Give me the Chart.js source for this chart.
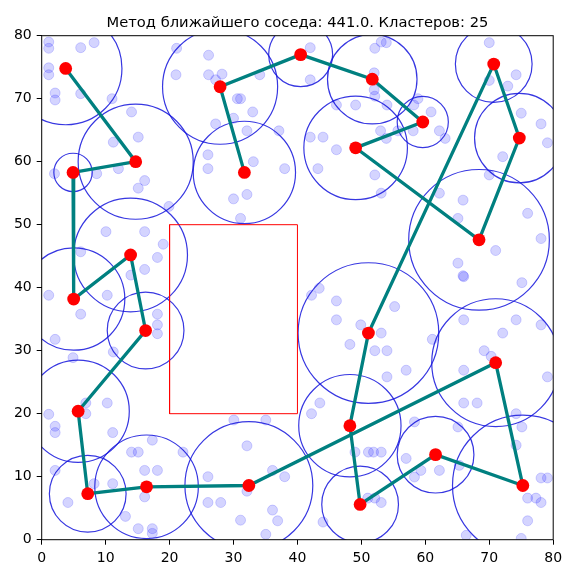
<!DOCTYPE html>
<html>
<head>
<meta charset="utf-8">
<script src="https://cdn.jsdelivr.net/npm/chart.js@4.4.0/dist/chart.umd.min.js"></script>
<style>
  html, body { margin: 0; padding: 0; background: #fff; }
  #wrap { width: 563px; height: 565px; }
</style>
</head>
<body>
<div id="wrap"><canvas id="c" width="563" height="565"></canvas></div>
<script>
// Title shown above the plot
const titleText = 'Метод ближайшего соседа: 441.0. Кластеров: 25';

// Axis ticks
const tickMin = 0;
const tickMax = 80;
const tickStep = 10;

// Cluster centres, listed in the order the nearest-neighbour route visits them
const centerX = [3.75, 14.7, 4.9, 5.0, 13.9, 16.25, 5.7, 7.2, 16.4, 32.4, 71.0, 75.25, 61.6,
                 49.8, 48.2, 51.1, 70.7, 74.7, 68.4, 49.1, 59.6, 51.7, 40.5, 27.9, 31.7];
const centerY = [74.8, 60.0, 58.3, 38.2, 45.2, 33.2, 20.4, 7.3, 8.4, 8.6, 28.1, 8.6, 13.5,
                 5.6, 18.1, 32.8, 75.5, 63.75, 47.6, 62.2, 66.3, 73.1, 77.0, 71.9, 58.3];
// Cluster radii (data units)
const clusterR = [8.8, 9.0, 3.0, 8.0, 8.9, 6.0, 8.0, 6.0, 8.1, 10.0, 10.0, 11.0, 6.0,
                  6.0, 8.0, 11.0, 6.0, 7.0, 11.0, 8.1, 4.0, 7.0, 5.0, 9.0, 8.0];

// Forbidden zone outline
const zoneX = [20, 40, 40, 20, 20];
const zoneY = [20, 20, 50, 50, 20];

// Raw observations
const obsX = [
  1.1, 1.1, 6.1, 8.2, 1.1, 1.1, 2.1, 2.1, 6.1, 11.0,
  21.1, 21.0, 26.1, 26.1, 28.2, 27.2, 34.1, 27.2, 30.0, 30.6, 31.1, 33.0, 32.1, 37.1,
  14.05, 11.2, 15.1, 16.1, 15.1, 12.0, 8.6, 2.0,
  26.0, 26.0, 33.1, 38.0, 30.0, 32.1, 31.1, 19.9,
  10.05, 16.1, 19.0, 18.1, 16.1, 13.95, 6.1,
  42.0, 42.0, 52.1, 53.1, 53.9, 52.0, 52.0, 52.1, 54.0, 49.1, 46.1, 58.2, 58.85, 60.9,
  62.2, 63.1, 58.1, 55.7, 53.9, 53.0, 42.0, 44.0, 46.1, 43.2, 52.1, 53.1,
  70.0, 74.2, 72.9, 70.0, 75.0, 78.1, 79.1, 72.1, 70.0, 62.2, 65.9, 76.0, 78.1, 71.0,
  65.1, 65.9, 65.1,
  1.1, 6.1, 10.25, 11.2, 2.1, 4.9, 18.1, 18.1, 18.1, 1.1, 2.1, 2.1, 6.9, 6.9, 10.25,
  11.1, 2.1, 4.1, 8.2, 11.1, 13.1, 14.05, 15.1, 17.3, 16.1, 18.1, 16.1, 15.1, 17.3, 17.3,
  22.1, 26.0, 26.0, 28.0, 30.05, 35.05, 32.1, 32.1, 31.1, 36.1, 36.9, 35.05, 38.0, 36.1,
  66.0, 75.1, 43.4, 42.2, 46.1, 46.1, 55.2, 49.9, 53.1, 48.2, 52.1, 54.0, 57.0, 54.0,
  61.1, 66.0, 74.2, 72.1, 78.1, 69.2, 70.3, 66.0, 79.1, 66.0, 68.1, 74.2, 75.1, 43.5,
  42.2, 58.3, 65.1, 74.2, 49.0, 51.1, 51.9, 53.1, 57.0, 58.3, 59.3, 62.2, 65.3, 78.1,
  79.1, 76.0, 77.3, 78.1, 76.0, 51.0, 52.1, 53.1, 44.0, 66.4, 75.0
];
const obsY = [
  79.0, 78.0, 78.1, 78.9, 74.9, 73.8, 70.9, 69.8, 70.8, 70.0,
  78.0, 73.8, 76.9, 73.8, 73.9, 73.0, 73.8, 66.0, 66.9, 70.0, 70.0, 67.9, 64.9, 64.9,
  67.9, 63.1, 63.9, 57.0, 55.8, 58.9, 58.1, 58.1,
  61.1, 58.9, 60.0, 58.9, 54.1, 54.8, 51.0, 52.9,
  48.9, 48.9, 46.9, 44.8, 42.9, 42.0, 45.7,
  78.1, 73.0, 78.0, 79.0, 78.9, 74.1, 71.4, 70.4, 69.0, 69.0, 69.0, 69.0, 70.0, 67.9,
  64.9, 63.7, 64.9, 64.9, 63.7, 64.9, 63.9, 63.9, 61.9, 58.9, 57.9, 55.0,
  78.9, 73.8, 72.0, 72.9, 67.7, 66.0, 63.0, 60.8, 57.9, 55.0, 53.9, 51.8, 47.8, 45.9,
  43.9, 41.9, 51.0,
  38.8, 35.8, 38.8, 29.8, 31.8, 28.9, 35.8, 34.1, 32.7, 19.9, 18.0, 17.0, 21.7, 20.0, 21.7,
  17.0, 11.0, 5.9, 8.9, 8.9, 3.7, 13.9, 13.9, 15.8, 11.0, 11.0, 6.8, 1.75, 1.75, 1.0,
  13.9, 10.0, 5.9, 5.9, 19.0, 19.0, 14.9, 7.7, 3.1, 4.7, 3.0, 0.85, 10.0, 11.0,
  41.75, 40.8, 39.9, 38.8, 37.9, 34.9, 37.0, 34.1, 32.8, 31.0, 30.0, 30.0, 26.9, 25.85,
  31.8, 34.9, 34.9, 32.8, 34.1, 30.0, 29.1, 26.9, 25.85, 21.7, 21.7, 20.0, 17.9, 21.7,
  20.0, 18.7, 17.9, 15.0, 13.9, 13.9, 13.9, 13.9, 12.9, 9.95, 11.0, 11.0, 11.8, 9.8,
  9.8, 6.6, 6.6, 5.9, 3.0, 6.6, 6.6, 5.9, 2.8, 0.7, 0.2
];

const toPoints = (xs, ys) => xs.map((x, i) => ({ x, y: ys[i] }));

// Axes frame and centred title
const frameAndTitle = {
  id: 'frameAndTitle',
  afterDraw(chart) {
    const { ctx, chartArea: a } = chart;
    ctx.save();
    ctx.strokeStyle = '#000';
    ctx.lineWidth = 1;
    ctx.strokeRect(a.left, a.top, a.right - a.left, a.bottom - a.top);
    ctx.fillStyle = '#000';
    ctx.font = '14.7px "DejaVu Sans"';
    ctx.textAlign = 'center';
    ctx.textBaseline = 'alphabetic';
    ctx.fillText(titleText, (a.left + a.right) / 2, 27.3);
    ctx.restore();
  }
};

const tickFont = { family: 'DejaVu Sans', size: 14 };

// Keep tick labels from pushing the plot area inwards
function noLabelPadding(s) {
  s.paddingLeft = 0;
  s.paddingRight = 0;
  s.paddingTop = 0;
  s.paddingBottom = 0;
}

new Chart(document.getElementById('c'), {
  type: 'scatter',
  data: {
    datasets: [
      {
        label: 'obs',
        data: toPoints(obsX, obsY),
        pointRadius: 5,
        backgroundColor: 'rgba(0,0,255,0.17)',
        borderColor: 'rgba(0,0,255,0.17)',
        borderWidth: 1,
        clip: 0,
        order: 5
      },
      {
        label: 'clusters',
        data: toPoints(centerX, centerY),
        pointRadius: (ctx) => {
          const s = ctx.chart.scales.x;
          return Math.abs(s.getPixelForValue(clusterR[ctx.dataIndex]) - s.getPixelForValue(0));
        },
        backgroundColor: 'rgba(0,0,0,0)',
        borderColor: 'rgba(20,20,220,0.85)',
        borderWidth: 1.2,
        clip: 0,
        order: 4
      },
      {
        label: 'zone',
        data: toPoints(zoneX, zoneY),
        showLine: true,
        borderColor: '#ff0000',
        borderWidth: 1,
        pointRadius: 0,
        fill: false,
        clip: 0,
        order: 3
      },
      {
        label: 'route',
        data: toPoints(centerX, centerY),
        showLine: true,
        borderColor: '#008080',
        borderWidth: 3.3,
        pointRadius: 0,
        fill: false,
        clip: 0,
        order: 2
      },
      {
        label: 'centres',
        data: toPoints(centerX, centerY),
        pointRadius: 6.4,
        backgroundColor: '#ff0000',
        borderWidth: 0,
        clip: 0,
        order: 1
      }
    ]
  },
  options: {
    responsive: false,
    animation: false,
    devicePixelRatio: 1,
    events: [],
    layout: { padding: { left: 0, right: 9.8, top: 35.7, bottom: 0 } },
    plugins: {
      legend: { display: false },
      title: { display: false },
      tooltip: { enabled: false }
    },
    scales: {
      x: {
        type: 'linear',
        min: tickMin,
        max: tickMax,
        ticks: { stepSize: tickStep, color: '#000', font: tickFont, padding: 5 },
        grid: { drawOnChartArea: false, drawTicks: true, tickLength: 5, color: '#000' },
        border: { display: false },
        afterFit(s) { s.height = 25.3; noLabelPadding(s); }
      },
      y: {
        type: 'linear',
        min: tickMin,
        max: tickMax,
        ticks: { stepSize: tickStep, color: '#000', font: tickFont, padding: 5 },
        grid: { drawOnChartArea: false, drawTicks: true, tickLength: 5, color: '#000' },
        border: { display: false },
        afterFit(s) { s.width = 41.7; noLabelPadding(s); }
      }
    }
  },
  plugins: [frameAndTitle]
});
</script>
</body>
</html>
